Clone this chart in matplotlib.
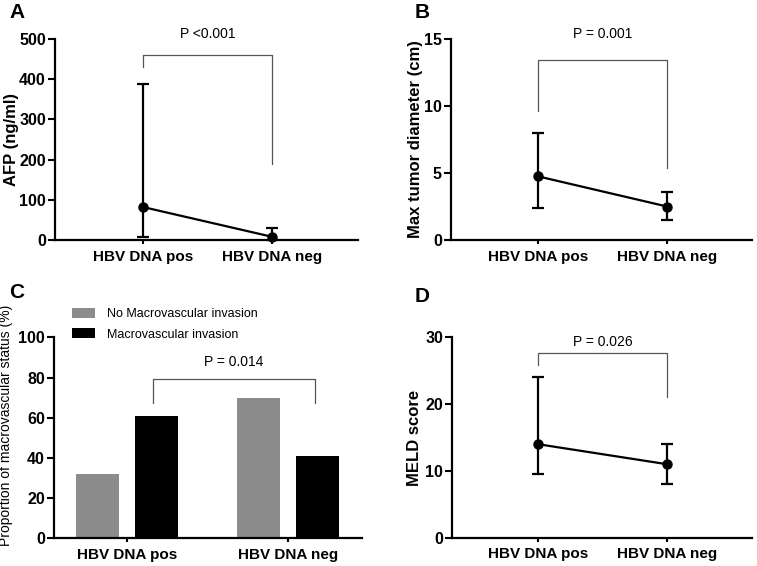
import matplotlib
matplotlib.use("Agg")
import matplotlib.pyplot as plt

plt.rcParams['font.family'] = ['Liberation Sans', 'DejaVu Sans']

groups = ["HBV DNA pos", "HBV DNA neg"]

# Panel A: AFP (median with range-like error bars)
afp_mid = [82, 8]
afp_low = [8, 0]
afp_high = [388, 30]

# Panel B: Max tumor diameter
diam_mid = [4.75, 2.5]
diam_low = [2.4, 1.5]
diam_high = [8.0, 3.6]

# Panel C: proportion of macrovascular status
no_macro = [31.8, 70.0]
macro = [60.8, 40.9]
series_names = ["No Macrovascular invasion", "Macrovascular invasion"]

# Panel D: MELD score
meld_mid = [14, 11]
meld_low = [9.5, 8]
meld_high = [24, 14]

W, H = 757, 566
fig = plt.figure(figsize=(W / 100, H / 100), dpi=100)


def px_axes(left, right, top, bottom):
    return fig.add_axes([left / W, 1 - bottom / H, (right - left) / W, (bottom - top) / H])


def style(ax, ylabel, yticks, ylim, xlim, ylabel_size=12, ylabel_weight='bold', labelpad=1.5):
    for s in ['top', 'right']:
        ax.spines[s].set_visible(False)
    for s in ['left', 'bottom']:
        ax.spines[s].set_linewidth(1.6)
    ax.set_ylim(*ylim)
    ax.set_xlim(*xlim)
    ax.set_yticks(yticks)
    ax.set_xticks([0, 1])
    ax.set_xticklabels(groups, fontsize=11, fontweight='bold')
    ax.tick_params(axis='y', length=5, width=1.5, labelsize=11.5, pad=1.5)
    ax.tick_params(axis='x', length=3, width=1.5, labelsize=11, pad=4)
    for lab in ax.get_yticklabels():
        lab.set_fontweight('bold')
    ax.set_ylabel(ylabel, fontsize=ylabel_size, fontweight=ylabel_weight, labelpad=labelpad)


def line_panel(ax, mid, low, high):
    x = [0, 1]
    yerr = [[m - l for m, l in zip(mid, low)], [h - m for m, h in zip(mid, high)]]
    ax.errorbar(x, mid, yerr=yerr, fmt='o-', color='black', ms=6.5, lw=1.6,
                elinewidth=1.6, capsize=4, capthick=1.6, clip_on=False, zorder=3)


def bracket(ax, x0, x1, ytop, yl, yr, text, ytext):
    ax.plot([x0, x0, x1, x1], [yl, ytop, ytop, yr], color='#555555', lw=0.9, clip_on=False)
    ax.text((x0 + x1) / 2, ytext, text, ha='center', va='center', fontsize=10, clip_on=False)


# Panel A
axA = px_axes(55, 358, 39, 240)
line_panel(axA, afp_mid, afp_low, afp_high)
style(axA, "AFP (ng/ml)", [0, 100, 200, 300, 400, 500], (0, 500),
      (-(143 - 55) / 129, 1 + (358 - 272) / 129), labelpad=0.5)
bracket(axA, 0, 1, 460, 430, 190, "P <0.001", 512)

# Panel B
axB = px_axes(451, 752, 39, 240)
line_panel(axB, diam_mid, diam_low, diam_high)
style(axB, "Max tumor diameter (cm)", [0, 5, 10, 15], (0, 15),
      (-(538 - 451) / 129, 1 + (752 - 667) / 129), labelpad=1)
bracket(axB, 0, 1, 13.4, 9.6, 5.4, "P = 0.001", 15.4)

# Panel C
axC = px_axes(54, 362, 337.3, 538.3)
off, bw = 0.186, 0.267
axC.bar([i - off for i in range(2)], no_macro, width=bw, color='#8c8c8c', label=series_names[0])
axC.bar([i + off for i in range(2)], macro, width=bw, color='black', label=series_names[1])
style(axC, "Proportion of macrovascular status (%)", [0, 20, 40, 60, 80, 100], (0, 100),
      (-(127 - 54) / 161, 1 + (362 - 288) / 161), ylabel_size=10, ylabel_weight='normal')
axC.yaxis.set_label_coords((13 - 54) / 308, (538.3 - 425) / 201)
bracket(axC, 0.16, 1.17, 79.4, 67.5, 67.5, "P = 0.014", 87.7)
leg = axC.legend(loc='upper left', bbox_to_anchor=((72 - 54) / 308, 1.145), frameon=False,
                 fontsize=9, handlelength=1.85, handleheight=0.8, handletextpad=0.96,
                 labelspacing=0.65, borderaxespad=0, borderpad=0)

# Panel D
axD = px_axes(452, 752, 337.3, 537.7)
line_panel(axD, meld_mid, meld_low, meld_high)
style(axD, "MELD score", [0, 10, 20, 30], (0, 30),
      (-(538 - 452) / 129, 1 + (752 - 667) / 129), labelpad=2)
bracket(axD, 0, 1, 27.7, 25.8, 21, "P = 0.026", 29.3)

# Panel letters
for letter, xp, yp in [("A", 9, 13), ("B", 415, 13), ("C", 9, 293), ("D", 415, 296)]:
    fig.text(xp / W, 1 - yp / H, letter, fontsize=15, fontweight='bold', ha='left', va='center')

fig.savefig("out.png", dpi=100)
